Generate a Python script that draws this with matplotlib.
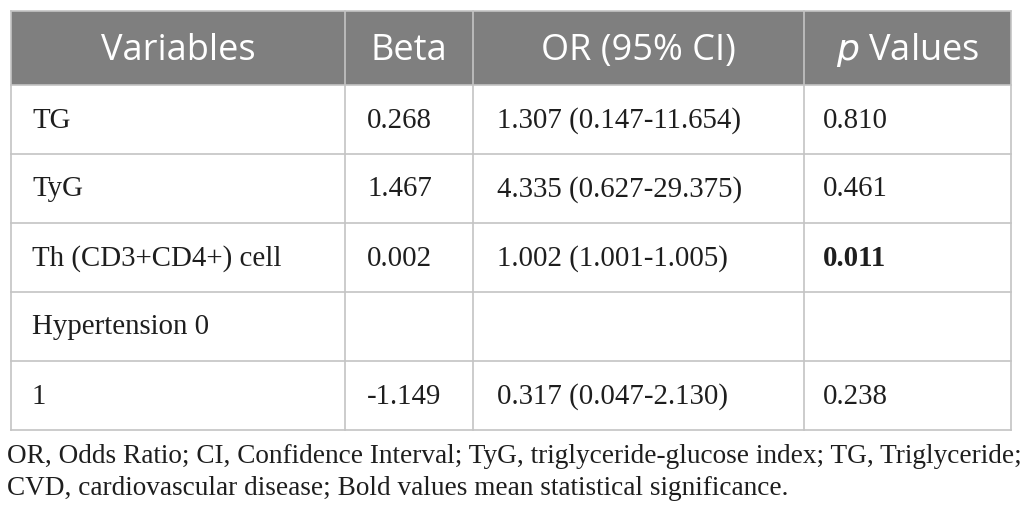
import matplotlib.pyplot as plt
from matplotlib.patches import Rectangle

# table content
headers = ["Variables", "Beta", "OR (95% CI)", "$\\it{p}$ Values"]
variables = ["TG", "TyG", "Th (CD3+CD4+) cell", "Hypertension 0", "1"]
beta = ["0.268", "1.467", "0.002", "", "-1.149"]
or_ci = ["1.307 (0.147-11.654)", "4.335 (0.627-29.375)", "1.002 (1.001-1.005)", "", "0.317 (0.047-2.130)"]
p_values = ["0.810", "0.461", "0.011", "", "0.238"]
p_bold = [False, False, True, False, False]
caption = ["OR, Odds Ratio; CI, Confidence Interval; TyG, triglyceride-glucose index; TG, Triglyceride;",
           "CVD, cardiovascular disease; Bold values mean statistical significance."]

# layout in pixels
W, H = 1026, 519
col_edges = [11, 345, 473, 804, 1011]
header_top, header_bot = 11, 85
row_h = 69
grid_col = "#c4c4c4"
head_col = "#7f7f7f"
text_col = "#1e1e1e"

fig = plt.figure(figsize=(W / 100, H / 100), dpi=100)
ax = fig.add_axes([0, 0, 1, 1])
ax.set_xlim(0, W)
ax.set_ylim(H, 0)
ax.axis("off")

# header band
ax.add_patch(Rectangle((col_edges[0], header_top), col_edges[-1] - col_edges[0],
                       header_bot - header_top, facecolor=head_col, edgecolor="none"))
for i, h in enumerate(headers):
    cx = (col_edges[i] + col_edges[i + 1]) / 2
    ax.text(cx, 60, h, ha="center", va="baseline",
            color="white", fontsize=26, family="Open Sans")

# body
columns = [variables, beta, or_ci, p_values]
pads = [21, 22, 24, 19]
n = len(variables)
table_bot = header_bot + n * row_h
for r in range(n):
    cy = header_bot + r * row_h + row_h / 2
    for c, col in enumerate(columns):
        weight = "bold" if (c == 3 and p_bold[r]) else "normal"
        ax.text(col_edges[c] + pads[c], cy + 1, col[r], ha="left", va="center",
                fontsize=20.8, family="Liberation Serif", color=text_col, weight=weight)

# grid lines
for r in range(n + 1):
    y = header_bot + r * row_h
    ax.plot([col_edges[0], col_edges[-1]], [y, y], color=grid_col, lw=1.2)
ax.plot([col_edges[0], col_edges[-1]], [header_top, header_top], color=grid_col, lw=1.2)
for x in col_edges:
    ax.plot([x, x], [header_top, table_bot], color=grid_col, lw=1.2)

# caption
for i, line in enumerate(caption):
    ax.text(7, 463 + i * 32, line, ha="left", va="baseline", fontsize=19.6,
            family="Liberation Serif", color=text_col)

fig.savefig("out.png", dpi=100)
